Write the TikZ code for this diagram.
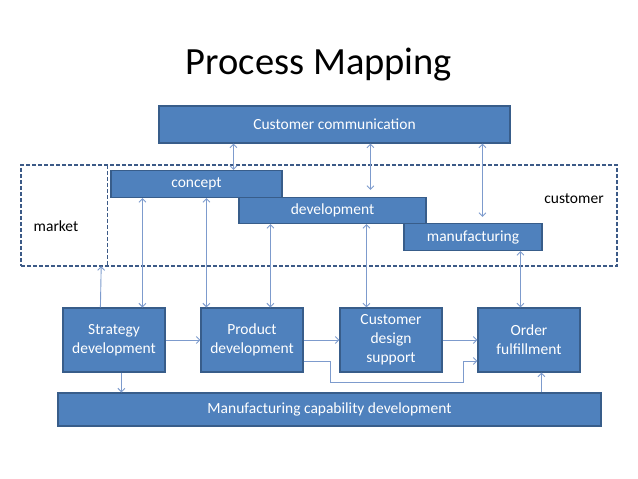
\documentclass[tikz,border=0pt]{standalone}
\usepackage{fontspec}
\setmainfont{Carlito}
\usetikzlibrary{arrows.meta}
\definecolor{boxfill}{RGB}{79,129,189}
\definecolor{boxline}{RGB}{56,93,138}
\definecolor{arrline}{RGB}{125,155,205}
\definecolor{dashline}{RGB}{60,90,135}
\tikzset{
  blockbox/.style={draw=boxline, line width=1.2pt, fill=boxfill, text=white,
    font=\fontsize{15.5}{19}\selectfont, align=center, inner sep=0pt},
  zonebox/.style={draw=dashline, line width=1.4pt, dash pattern=on 4pt off 2pt, inner sep=0pt},
  zoneline/.style={draw=dashline, line width=1.4pt, dash pattern=on 4pt off 2pt},
  zonelabel/.style={font=\fontsize{15.5}{19}\selectfont, text=black},
  arr/.style={draw=arrline, line width=0.9pt, -{Straight Barb[length=3.5pt,width=7pt]}},
  darr/.style={draw=arrline, line width=0.9pt, {Straight Barb[length=3.5pt,width=7pt]}-{Straight Barb[length=3.5pt,width=7pt]}}
}
\begin{document}
\begin{tikzpicture}[x=1pt,y=-1pt]
\useasboundingbox (0,0) rectangle (638,479);
\node[font=\fontsize{38.5}{44}\selectfont, anchor=base] (title) at (319,74) {Process Mapping};

% zones
\node[zonebox, minimum width=596pt, minimum height=101pt] (zone) at (319,215.5) {};
\node[inner sep=0pt, minimum width=86pt, minimum height=101pt] (mkt) at (64,215.5) {};
\draw[zoneline] (mkt.north east) -- (mkt.south east);
\node[zonelabel] (mktl) at (56,226) {market};
\node[zonelabel] (custl) at (574,199) {customer};

% top boxes
\node[blockbox, minimum width=351pt, minimum height=37pt] (ccomm) at (334.5,124.5) {Customer communication};
\node[blockbox, minimum width=171pt, minimum height=27pt] (concept) at (196.5,184) {concept};
\node[blockbox, minimum width=187pt, minimum height=26pt] (dev) at (332.5,210.5) {development};
\node[blockbox, minimum width=138pt, minimum height=27pt] (manu) at (473,237) {manufacturing};

% bottom boxes
\node[blockbox, minimum width=102pt, minimum height=64pt] (strat) at (114,340) {Strategy\\development};
\node[blockbox, minimum width=102pt, minimum height=64pt] (prod) at (252,340) {Product\\development};
\node[blockbox, minimum width=102pt, minimum height=64pt] (cds) at (391,340) {Customer\\design\\support};
\node[blockbox, minimum width=102pt, minimum height=64pt] (order) at (529,340) {Order\\fulfillment};
\node[blockbox, minimum width=543pt, minimum height=33pt] (mcd) at (329.5,409.5) {Manufacturing capability development};

% arrows from customer communication
\draw[darr] ([xshift=75pt]ccomm.south west) -- ([xshift=123pt]concept.north west);
\draw[darr] ([xshift=212pt]ccomm.south west) -- ([xshift=132pt,yshift=7pt]dev.north west);
\draw[darr] ([xshift=324pt]ccomm.south west) -- ([xshift=79pt,yshift=6pt]manu.north west);

% vertical arrows
\draw[arr] ([xshift=38pt]strat.north west) -- ([xshift=-6pt]mkt.south east);
\draw[darr] ([xshift=32pt]concept.south west) -- ([xshift=80pt]strat.north west);
\draw[darr] ([xshift=96pt]concept.south west) -- ([xshift=6pt]prod.north west);
\draw[darr] ([xshift=32pt]dev.south west) -- ([xshift=70pt]prod.north west);
\draw[darr] ([xshift=128pt]dev.south west) -- ([xshift=27pt]cds.north west);
\draw[darr] ([xshift=117pt]manu.south west) -- ([xshift=43pt]order.north west);
\draw[arr] ([xshift=59pt]strat.south west) -- ([xshift=64pt]mcd.north west);
\draw[arr] ([xshift=484pt]mcd.north west) -- ([xshift=64pt]order.south west);

% horizontal arrows
\draw[arr] (strat.east) -- (prod.west);
\draw[arr] (prod.east) -- (cds.west);
\draw[arr] (cds.east) -- (order.west);
\draw[arr] ([yshift=-21pt]prod.east) -- ++(27,0) -- ++(0,21) -- ++(133,0) -- ++(0,-21) -- ([yshift=-21pt]order.west);
\end{tikzpicture}
\end{document}
